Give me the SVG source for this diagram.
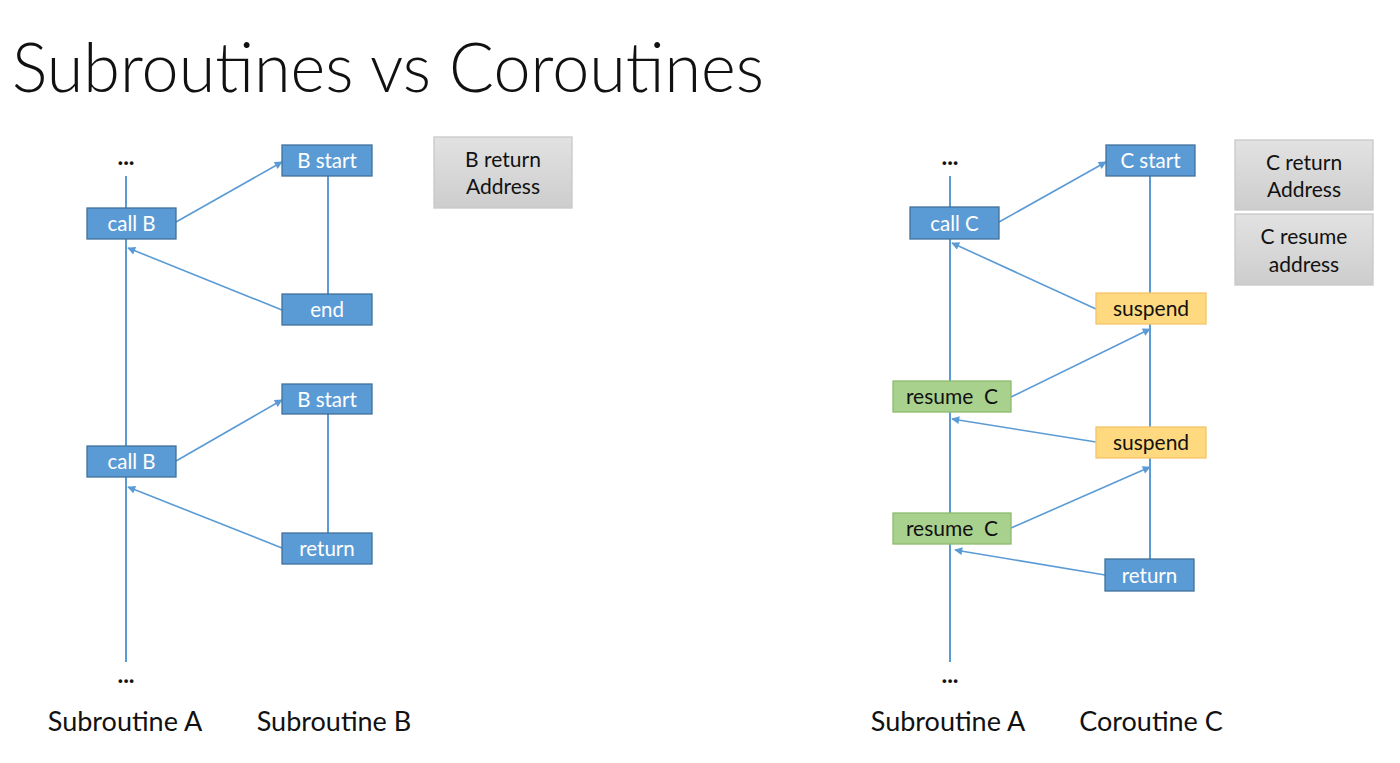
<svg xmlns="http://www.w3.org/2000/svg" width="1400" height="763" viewBox="0 0 1400 763">
<defs>
<style>
.t{font-family:Lato,"Open Sans","Liberation Sans",sans-serif;}
.blue{fill:#5B9BD5;stroke:#41719C;stroke-width:1.3;}
.green{fill:#A9D18E;stroke:#8DBB6E;stroke-width:1.3;}
.orange{fill:#FFD97F;stroke:#F4C46A;stroke-width:1.3;}
.gray{fill:url(#gg);stroke:#C8C8C8;stroke-width:1.3;}
.wl{fill:#fff;font-size:20.5px;text-anchor:middle;}
.bl{fill:#111;font-size:21px;text-anchor:middle;}
.lbl{fill:#111;font-size:27px;text-anchor:middle;}
.dots{fill:#111;font-size:24px;text-anchor:middle;font-weight:bold;}
.line{stroke:#5B9BD5;stroke-width:2;fill:none;}
.arr{stroke:#5B9BD5;stroke-width:1.6;fill:none;marker-end:url(#ah);}
</style>
<linearGradient id="gg" x1="0" y1="0" x2="0" y2="1">
<stop offset="0" stop-color="#E2E2E2"/>
<stop offset="1" stop-color="#CDCDCD"/>
</linearGradient>
<marker id="ah" viewBox="0 0 10 10" refX="9" refY="5" markerWidth="9" markerHeight="8" orient="auto" markerUnits="userSpaceOnUse">
<path d="M0,0 L10,5 L0,10 z" fill="#5B9BD5"/>
</marker>
</defs>
<rect width="1400" height="763" fill="#fff"/>
<text class="t" x="12" y="92" font-size="68" font-weight="300" fill="#111" textLength="752" lengthAdjust="spacingAndGlyphs">Subroutines vs Coroutines</text>

<g id="connectors">
<line class="line" x1="126" y1="176" x2="126" y2="662"/>
<line class="line" x1="328" y1="176" x2="328" y2="294"/>
<line class="line" x1="328" y1="414" x2="328" y2="533"/>
<line class="line" x1="950" y1="176" x2="950" y2="662"/>
<line class="line" x1="1150" y1="176" x2="1150" y2="559"/>
<line class="arr" x1="176" y1="222" x2="282" y2="162"/>
<line class="arr" x1="282" y1="310" x2="128" y2="248"/>
<line class="arr" x1="176" y1="461" x2="282" y2="400"/>
<line class="arr" x1="282" y1="548" x2="128" y2="487"/>
<line class="arr" x1="999" y1="222" x2="1106" y2="162"/>
<line class="arr" x1="1096" y1="309" x2="952" y2="243"/>
<line class="arr" x1="1011" y1="397" x2="1150" y2="329"/>
<line class="arr" x1="1096" y1="442" x2="952" y2="419"/>
<line class="arr" x1="1011" y1="528" x2="1150" y2="467"/>
<line class="arr" x1="1105" y1="575" x2="955" y2="550"/>
</g>

<text class="t dots" x="126" y="165">...</text>
<text class="t dots" x="126" y="683">...</text>
<text class="t dots" x="950" y="165">...</text>
<text class="t dots" x="950" y="683">...</text>

<g id="callB1"><rect class="blue" x="87" y="208" width="89" height="31"/><text class="t wl" x="131.5" y="231">call B</text></g>
<g id="bstart1"><rect class="blue" x="282" y="145" width="90" height="31"/><text class="t wl" x="327" y="168">B start</text></g>
<g id="end"><rect class="blue" x="282" y="294" width="90" height="31"/><text class="t wl" x="327" y="317">end</text></g>
<g id="bstart2"><rect class="blue" x="282" y="384" width="90" height="30"/><text class="t wl" x="327" y="407">B start</text></g>
<g id="callB2"><rect class="blue" x="87" y="446" width="89" height="31"/><text class="t wl" x="131.5" y="469">call B</text></g>
<g id="returnB"><rect class="blue" x="282" y="533" width="90" height="31"/><text class="t wl" x="327" y="556">return</text></g>
<g id="bReturnAddr"><rect class="gray" x="434" y="137" width="138" height="71"/><text class="t bl" x="503" y="167">B return</text><text class="t bl" x="503" y="194">Address</text></g>

<g id="callC"><rect class="blue" x="910" y="207" width="89" height="32"/><text class="t wl" x="954.5" y="231">call C</text></g>
<g id="cstart"><rect class="blue" x="1106" y="145" width="89" height="31"/><text class="t wl" x="1150.5" y="168">C start</text></g>
<g id="suspend1"><rect class="orange" x="1096" y="293" width="110" height="31"/><text class="t bl" x="1151" y="316">suspend</text></g>
<g id="resume1"><rect class="green" x="893" y="381" width="118" height="31"/><text class="t bl" x="952" y="404" xml:space="preserve">resume  C</text></g>
<g id="suspend2"><rect class="orange" x="1096" y="427" width="110" height="31"/><text class="t bl" x="1151" y="450">suspend</text></g>
<g id="resume2"><rect class="green" x="893" y="513" width="118" height="31"/><text class="t bl" x="952" y="536" xml:space="preserve">resume  C</text></g>
<g id="returnC"><rect class="blue" x="1105" y="559" width="89" height="32"/><text class="t wl" x="1149.5" y="583">return</text></g>
<g id="cReturnAddr"><rect class="gray" x="1235" y="140" width="138" height="70"/><text class="t bl" x="1304" y="170">C return</text><text class="t bl" x="1304" y="197">Address</text></g>
<g id="cResumeAddr"><rect class="gray" x="1235" y="214" width="138" height="71"/><text class="t bl" x="1304" y="244">C resume</text><text class="t bl" x="1304" y="272">address</text></g>

<text class="t lbl" x="125" y="731">Subroutine A</text>
<text class="t lbl" x="334" y="731">Subroutine B</text>
<text class="t lbl" x="948" y="731">Subroutine A</text>
<text class="t lbl" x="1151" y="731">Coroutine C</text>
</svg>
